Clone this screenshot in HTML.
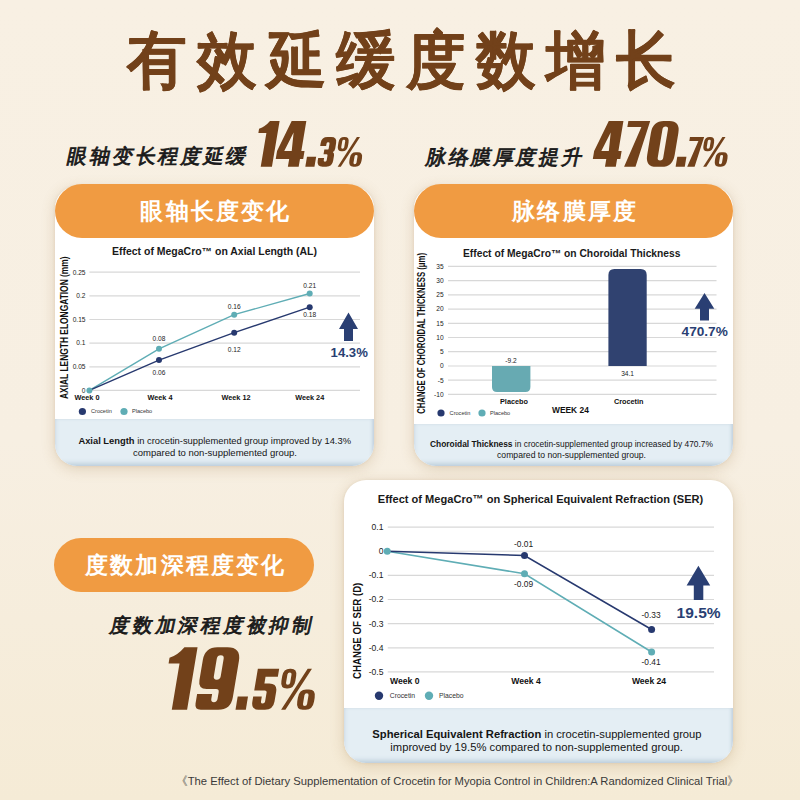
<!DOCTYPE html>
<html><head><meta charset="utf-8">
<style>
html,body{margin:0;padding:0;}
body{width:800px;height:800px;position:relative;overflow:hidden;
 background:linear-gradient(180deg,#f8f0e3 0%,#f7efe2 55%,#f5ebd6 100%);
 font-family:"Liberation Sans",sans-serif;}
.card{position:absolute;background:#fff;border-radius:22px;overflow:hidden;
 box-shadow:0 3px 14px rgba(150,112,60,0.24),0 0 3px rgba(150,112,60,0.12);}
.foot{position:absolute;left:0;right:0;bottom:0;background:#e4eef4;
 box-shadow:inset 0 -3px 4px rgba(140,165,190,0.38),inset -2px 0 3px rgba(140,165,190,0.22);}
.pill{position:absolute;background:#f09b42;border-radius:27px;}
svg{position:absolute;left:0;top:0;}
</style></head>
<body>
<div class="card" style="left:55px;top:186px;width:319px;height:280px;"><div class="foot" style="height:47px"></div></div>
<div class="card" style="left:414px;top:186px;width:319px;height:280px;"><div class="foot" style="height:42px"></div></div>
<div class="card" style="left:344px;top:480px;width:389px;height:283px;"><div class="foot" style="height:55px"></div></div>
<div class="pill" style="left:55px;top:184px;width:319px;height:54px;"></div>
<div class="pill" style="left:414px;top:184px;width:319px;height:54px;"></div>
<div class="pill" style="left:54px;top:538px;width:260px;height:54px;"></div>

<svg width="800" height="800" viewBox="0 0 800 800" font-family="'Liberation Sans', sans-serif">
<!-- title -->
<text x="127" y="81.6" font-size="63" font-weight="700" fill="#72411a" stroke="#72411a" stroke-width="0.5" stroke-linejoin="round" textLength="580" lengthAdjust="spacing" transform="translate(127,0) scale(0.945,1) translate(-127,0)">有效延缓度数增长</text>

<!-- subtitles -->
<g transform="translate(0,0)">
<text x="66.5" y="163.2" font-size="20" fill="#1a1a1a" stroke="#1a1a1a" stroke-width="0.85" textLength="178.5" lengthAdjust="spacing" transform="translate(0,163.2) skewX(-12) translate(0,-163.2)">眼轴变长程度延缓</text>
<text x="425" y="163.6" font-size="20" fill="#1a1a1a" stroke="#1a1a1a" stroke-width="0.85" textLength="155.5" lengthAdjust="spacing" transform="translate(0,163.6) skewX(-12) translate(0,-163.6)">脉络膜厚度提升</text>
<text x="109" y="631.8" font-size="19.5" fill="#1a1a1a" stroke="#1a1a1a" stroke-width="0.85" textLength="202" lengthAdjust="spacing" transform="translate(0,631.8) skewX(-12) translate(0,-631.8)">度数加深程度被抑制</text>
</g>

<!-- big numbers -->
<defs><path id="d49" fill-rule="evenodd" d="M0,17 Q13,12 21,0 L42,0 L42,100 L17.5,100 L17.5,26 L0,26 Z"/><path id="d52" fill-rule="evenodd" d="M21,0 L53,0 L53,65.4 L60,65.4 L60,82.7 L53,82.7 L53,100 L29.4,100 L29.4,82.7 L0,82.7 L0,65.4 Z M29.4,25 L32,65.4 L15.7,65.4 Z"/><path id="d55" fill-rule="evenodd" d="M0,0 L47.7,0 L32.3,100 L7.4,100 L30.7,13.3 L0,13.3 Z"/><path id="d48" fill-rule="evenodd" d="M24,0 L36,0 Q60,0 60,26 L60,74 Q60,100 36,100 L24,100 Q0,100 0,74 L0,26 Q0,0 24,0 Z M30,12 L30,12 Q36,12 36,18 L36,80 Q36,86 30,86 L30,86 Q24,86 24,80 L24,18 Q24,12 30,12 Z"/><path id="d57" fill-rule="evenodd" d="M20,0 L36,0 Q58,0 58,22 L58,80 Q58,100 38,100 L10,100 Q0,100 0,90 L0,75 L24,75 L24,83 Q24,88 29,88 Q34,88 34,83 L34,72 Q34,67 29,67 L14,67 Q0,67 0,53 L0,20 Q0,0 20,0 Z M27.5,13 L27.5,13 Q33,13 33,18.5 L33,46.5 Q33,52 27.5,52 L27.5,52 Q22,52 22,46.5 L22,18.5 Q22,13 27.5,13 Z"/><path id="d51" fill-rule="evenodd" d="M0,20 Q0,0 20,0 L32,0 Q52,0 52,20 L52,38 Q52,46 46,50 Q52,54 52,62 L52,80 Q52,100 32,100 L20,100 Q0,100 0,80 L0,70 L20,70 L20,78 Q20,83 25,83 Q30,83 30,78 L30,62 Q30,58 26,58 L16,58 L16,42 L26,42 Q30,42 30,38 L30,22 Q30,17 25,17 Q20,17 20,22 L20,30 L0,30 Z"/><path id="d53" fill-rule="evenodd" d="M0,0 L52,0 L52,19.5 L22,19.5 L22,36 L34,36 Q54,36 54,56 L54,80 Q54,100 34,100 L18,100 Q0,100 0,80 L0,68 L21,68 L21,80 Q21,85 26,85 Q31,85 31,80 L31,58 Q31,53 26,53 L0,53 Z"/><path id="d37" fill-rule="evenodd" d="M16,0 L18,0 Q34,0 34,18 L34,30 Q34,48 18,48 L16,48 Q0,48 0,30 L0,18 Q0,0 16,0 Z M17,9 L17,9 Q22,9 22,14 L22,34 Q22,39 17,39 L17,39 Q12,39 12,34 L12,14 Q12,9 17,9 Z M64,51 L71,51 Q88,51 88,71 L88,80 Q88,100 71,100 L64,100 Q47,100 47,80 L47,71 Q47,51 64,51 Z M67,60 L67,60 Q72,60 72,65 L72,86 Q72,91 67,91 L67,91 Q62,91 62,86 L62,65 Q62,60 67,60 Z M11,100 L21.5,100 L69.5,0 L59,0 Z"/><path id="d46" fill-rule="evenodd" d="M0,78 L20,78 L20,100 L0,100 Z"/><path id="d58" fill-rule="evenodd" d="M0,79 L16.5,79 L16.5,100 L0,100 Z"/></defs>
<g fill="#72411a">
<use href="#d49" transform="translate(252.70,166.80) skewX(-9.5) scale(0.4580) translate(0,-100)"/>
<use href="#d52" transform="translate(274.40,166.80) skewX(-9.5) scale(0.4580) translate(0,-100)"/>
<use href="#d46" transform="translate(305.30,166.80) skewX(-9.5) scale(0.4580) translate(0,-100)"/>
<use href="#d51" transform="translate(316.70,166.80) skewX(-9.5) scale(0.2970) translate(0,-100)"/>
<use href="#d37" transform="translate(334.40,166.80) skewX(-9.5) scale(0.2970) translate(0,-100)"/>
<use href="#d52" transform="translate(591.50,166.80) skewX(-9.5) scale(0.4580) translate(0,-100)"/>
<use href="#d55" transform="translate(620.70,166.80) skewX(-9.5) scale(0.4580) translate(0,-100)"/>
<use href="#d48" transform="translate(645.20,166.80) skewX(-9.5) scale(0.4580) translate(0,-100)"/>
<use href="#d46" transform="translate(675.60,166.80) skewX(-9.5) scale(0.4580) translate(0,-100)"/>
<use href="#d55" transform="translate(685.00,166.80) skewX(-9.5) scale(0.2970) translate(0,-100)"/>
<use href="#d37" transform="translate(699.90,166.80) skewX(-9.5) scale(0.2970) translate(0,-100)"/>
<use href="#d49" transform="translate(160.85,709.70) skewX(-9.5) scale(0.6250) translate(0,-100)"/>
<use href="#d57" transform="translate(194.50,709.70) skewX(-9.5) scale(0.6250) translate(0,-100)"/>
<use href="#d58" transform="translate(235.50,709.70) skewX(-9.5) scale(0.6250) translate(0,-100)"/>
<use href="#d53" transform="translate(251.00,709.70) skewX(-9.5) scale(0.4100) translate(0,-100)"/>
<use href="#d37" transform="translate(276.60,709.70) skewX(-9.5) scale(0.4100) translate(0,-100)"/>
</g>

<!-- pill texts -->
<g fill="#fff" font-weight="700" font-size="22.5">
 <text x="140.3" y="218.6" textLength="149" lengthAdjust="spacing">眼轴长度变化</text>
 <text x="512" y="218.8" textLength="124" lengthAdjust="spacing">脉络膜厚度</text>
 <text x="85.2" y="572.6" textLength="199" lengthAdjust="spacing">度数加深程度变化</text>
</g>

<!-- ============ CHART 1 ============ -->
<g>
 <text x="112" y="255" font-size="10.3" font-weight="700" fill="#1a1a1a" textLength="205" lengthAdjust="spacingAndGlyphs">Effect of MegaCro™ on Axial Length (AL)</text>
 <text transform="translate(68.4,327.7) rotate(-90)" text-anchor="middle" font-size="10.6" font-weight="700" fill="#111" textLength="142.6" lengthAdjust="spacingAndGlyphs">AXIAL LENGTH ELONGATION (mm)</text>
 <g stroke="#d8d8d8" stroke-width="1.2">
  <line x1="89.4" y1="272.2" x2="360" y2="272.2"/>
  <line x1="89.4" y1="295.9" x2="360" y2="295.9"/>
  <line x1="89.4" y1="319.5" x2="360" y2="319.5"/>
  <line x1="89.4" y1="343.1" x2="360" y2="343.1"/>
  <line x1="89.4" y1="366.8" x2="360" y2="366.8"/>
  <line x1="89.4" y1="390.4" x2="360" y2="390.4"/>
 </g>
 <g font-size="6.6" fill="#222" text-anchor="end">
  <text x="85.5" y="274.5">0.25</text>
  <text x="85.5" y="298.2">0.2</text>
  <text x="85.5" y="321.8">0.15</text>
  <text x="85.5" y="345.4">0.1</text>
  <text x="85.5" y="369.1">0.05</text>
  <text x="85.3" y="392.7">0</text>
 </g>
 <polyline points="89.4,390.4 159,348.8 234.2,314.7 309.7,293.5" fill="none" stroke="#5fadb5" stroke-width="1.4"/>
 <polyline points="89.4,390.4 159,360.1 234.2,332.7 309.7,307.2" fill="none" stroke="#27396f" stroke-width="1.4"/>
 <g fill="#27396f"><circle cx="159" cy="360.1" r="3"/><circle cx="234.2" cy="332.7" r="3"/><circle cx="309.7" cy="307.2" r="3"/></g>
 <g fill="#5fadb5"><circle cx="89.4" cy="390.4" r="3"/><circle cx="159" cy="348.8" r="3"/><circle cx="234.2" cy="314.7" r="3"/><circle cx="309.7" cy="293.5" r="3"/></g>
 <g font-size="6.6" fill="#222" text-anchor="middle">
  <text x="159" y="340.9">0.08</text>
  <text x="159" y="374.7">0.06</text>
  <text x="234.2" y="309.2">0.16</text>
  <text x="234.2" y="351.5">0.12</text>
  <text x="309.7" y="288">0.21</text>
  <text x="309.7" y="316.6">0.18</text>
 </g>
 <g font-size="7.3" font-weight="700" fill="#111" text-anchor="middle">
  <text x="87" y="400.3">Week 0</text>
  <text x="160" y="400.3">Week 4</text>
  <text x="236" y="400.3">Week 12</text>
  <text x="309.7" y="400.3">Week 24</text>
 </g>
 <circle cx="82.4" cy="411.5" r="3.6" fill="#27396f"/>
 <circle cx="124" cy="411.5" r="3.6" fill="#5fadb5"/>
 <g font-size="5.6" fill="#333"><text x="91" y="413.3">Crocetin</text><text x="132" y="413.3">Placebo</text></g>
 <path d="M348.5 312.5 L358 329 L353 329 L353 341 L344 341 L344 329 L339 329 Z" fill="#2a3f73"/>
 <text x="330.6" y="356.7" font-size="13.5" font-weight="700" fill="#2a3f73" textLength="37.2" lengthAdjust="spacingAndGlyphs">14.3%</text>
 <text x="78.4" y="444.4" font-size="8.8" fill="#151515" textLength="272.6" lengthAdjust="spacingAndGlyphs"><tspan font-weight="700">Axial Length</tspan> in crocetin-supplemented group improved by 14.3%</text>
 <text x="133" y="456" font-size="8.8" fill="#151515" textLength="164" lengthAdjust="spacingAndGlyphs">compared to non-supplemented group.</text>
</g>

<!-- ============ CHART 2 ============ -->
<g>
 <text x="463" y="256.6" font-size="10.3" font-weight="700" fill="#1a1a1a" textLength="217.5" lengthAdjust="spacingAndGlyphs">Effect of MegaCro™ on Choroidal Thickness</text>
 <text transform="translate(425.4,333.4) rotate(-90)" text-anchor="middle" font-size="10.6" font-weight="700" fill="#111" textLength="160.8" lengthAdjust="spacingAndGlyphs">CHANGE OF CHOROIDAL THICKNESS (μm)</text>
 <g stroke="#d8d8d8" stroke-width="1.2">
  <line x1="448" y1="266.4" x2="716.5" y2="266.4"/>
  <line x1="448" y1="280.6" x2="716.5" y2="280.6"/>
  <line x1="448" y1="294.8" x2="716.5" y2="294.8"/>
  <line x1="448" y1="309.1" x2="716.5" y2="309.1"/>
  <line x1="448" y1="323.3" x2="716.5" y2="323.3"/>
  <line x1="448" y1="337.5" x2="716.5" y2="337.5"/>
  <line x1="448" y1="351.7" x2="716.5" y2="351.7"/>
  <line x1="448" y1="366.0" x2="716.5" y2="366.0"/>
  <line x1="448" y1="380.2" x2="716.5" y2="380.2"/>
  <line x1="448" y1="394.4" x2="716.5" y2="394.4"/>
 </g>
 <g font-size="6.6" fill="#222" text-anchor="end">
  <text x="443.6" y="268.7">35</text>
  <text x="443.6" y="282.9">30</text>
  <text x="443.6" y="297.1">25</text>
  <text x="443.6" y="311.4">20</text>
  <text x="443.6" y="325.6">15</text>
  <text x="443.6" y="339.8">10</text>
  <text x="443.6" y="354.0">5</text>
  <text x="443.6" y="368.3">0</text>
  <text x="443.6" y="382.5">-5</text>
  <text x="443.6" y="396.7">-10</text>
 </g>
 <path d="M492 366 L530.4 366 L530.4 387 Q530.4 392 525.4 392 L497 392 Q492 392 492 387 Z" fill="#67aab2"/>
 <path d="M608.4 366 L608.4 275 Q608.4 269 614.4 269 L640.7 269 Q646.7 269 646.7 275 L646.7 366 Z" fill="#304270"/>
 <g font-size="6.6" fill="#222" text-anchor="middle">
  <text x="511" y="363.3">-9.2</text>
  <text x="627.6" y="376.3">34.1</text>
 </g>
 <g font-size="7.3" font-weight="700" fill="#111" text-anchor="middle">
  <text x="514" y="403.7">Placebo</text>
  <text x="628.7" y="403.7">Crocetin</text>
 </g>
 <text x="552" y="412.8" font-size="9.3" font-weight="700" fill="#111" textLength="36.8" lengthAdjust="spacingAndGlyphs">WEEK 24</text>
 <circle cx="441" cy="413" r="3.6" fill="#27396f"/>
 <circle cx="482" cy="413" r="3.6" fill="#5fadb5"/>
 <g font-size="5.6" fill="#333"><text x="449.6" y="414.8">Crocetin</text><text x="490" y="414.8">Placebo</text></g>
 <path d="M704.5 293 L714.3 308.7 L709 308.7 L709 320.4 L700 320.4 L700 308.7 L694.7 308.7 Z" fill="#2a3f73"/>
 <text x="681.6" y="335.7" font-size="12.5" font-weight="700" fill="#2a3f73" textLength="46.2" lengthAdjust="spacingAndGlyphs">470.7%</text>
 <text x="430" y="447" font-size="8.8" fill="#151515" textLength="283" lengthAdjust="spacingAndGlyphs"><tspan font-weight="700">Choroidal Thickness</tspan> in crocetin-supplemented group increased by 470.7%</text>
 <text x="497" y="458" font-size="8.8" fill="#151515" textLength="149" lengthAdjust="spacingAndGlyphs">compared to non-supplemented group.</text>
</g>

<!-- ============ CHART 3 ============ -->
<g>
 <text x="377.75" y="503" font-size="11.7" font-weight="700" fill="#1a1a1a" textLength="325.5" lengthAdjust="spacingAndGlyphs">Effect of MegaCro™ on Spherical Equivalent Refraction (SER)</text>
 <text transform="translate(360.6,630.8) rotate(-90)" text-anchor="middle" font-size="11.4" font-weight="700" fill="#111" textLength="96.2" lengthAdjust="spacingAndGlyphs">CHANGE OF SER (D)</text>
 <g stroke="#d8d8d8" stroke-width="1.2">
  <line x1="387.75" y1="527.1" x2="714" y2="527.1"/>
  <line x1="387.75" y1="551.25" x2="714" y2="551.25"/>
  <line x1="387.75" y1="575.4" x2="714" y2="575.4"/>
  <line x1="387.75" y1="599.5" x2="714" y2="599.5"/>
  <line x1="387.75" y1="623.7" x2="714" y2="623.7"/>
  <line x1="387.75" y1="647.8" x2="714" y2="647.8"/>
  <line x1="387.75" y1="671.9" x2="714" y2="671.9"/>
 </g>
 <g font-size="8.6" fill="#222" text-anchor="end">
  <text x="383.5" y="529.9">0.1</text>
  <text x="383.5" y="554.1">0</text>
  <text x="383.5" y="578.2">-0.1</text>
  <text x="383.5" y="602.3">-0.2</text>
  <text x="383.5" y="626.5">-0.3</text>
  <text x="383.5" y="650.6">-0.4</text>
  <text x="383.5" y="674.7">-0.5</text>
 </g>
 <polyline points="387.25,551.25 524.5,573.75 651.6,652" fill="none" stroke="#5fadb5" stroke-width="1.5"/>
 <polyline points="387.25,551.25 524.5,555.5 651.6,629.5" fill="none" stroke="#27396f" stroke-width="1.5"/>
 <g fill="#27396f"><circle cx="524.5" cy="555.5" r="3.5"/><circle cx="651.6" cy="629.5" r="3.5"/></g>
 <g fill="#5fadb5"><circle cx="387.25" cy="551.25" r="3.5"/><circle cx="524.5" cy="573.75" r="3.5"/><circle cx="651.6" cy="652" r="3.5"/></g>
 <g font-size="8.4" fill="#222" text-anchor="middle">
  <text x="523.5" y="547.3">-0.01</text>
  <text x="523.5" y="587.3">-0.09</text>
  <text x="651" y="617.8">-0.33</text>
  <text x="651" y="664.8">-0.41</text>
 </g>
 <g font-size="8.6" font-weight="700" fill="#111" text-anchor="middle">
  <text x="404.75" y="684.3">Week 0</text>
  <text x="526" y="684.3">Week 4</text>
  <text x="649" y="684.3">Week 24</text>
 </g>
 <circle cx="379" cy="695.75" r="4.2" fill="#27396f"/>
 <circle cx="429" cy="695.75" r="4.2" fill="#5fadb5"/>
 <g font-size="6.8" fill="#333"><text x="389.75" y="698.2">Crocetin</text><text x="439" y="698.2">Placebo</text></g>
 <path d="M698.4 565.7 L710.2 585.5 L703.3 585.5 L703.3 600 L693.8 600 L693.8 585.5 L686.6 585.5 Z" fill="#2a3f73"/>
 <text x="676.6" y="618" font-size="15.5" font-weight="700" fill="#2a3f73" textLength="44" lengthAdjust="spacingAndGlyphs">19.5%</text>
 <text x="372.3" y="737.8" font-size="10.6" fill="#151515" textLength="329.3" lengthAdjust="spacingAndGlyphs"><tspan font-weight="700">Spherical Equivalent Refraction</tspan> in crocetin-supplemented group</text>
 <text x="390.3" y="751.4" font-size="10.6" fill="#151515" textLength="292.7" lengthAdjust="spacingAndGlyphs">improved by 19.5% compared to non-supplemented group.</text>
</g>

<!-- citation -->
<text x="176" y="785" font-size="11.5" fill="#3a3a3a" textLength="563" lengthAdjust="spacingAndGlyphs">《The Effect of Dietary Supplementation of Crocetin for Myopia Control in Children:A Randomized Clinical Trial》</text>
</svg>
</body></html>
